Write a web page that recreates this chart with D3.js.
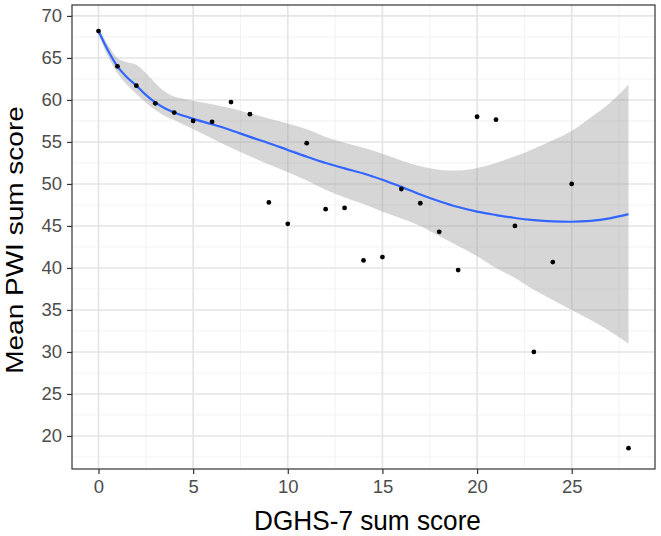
<!DOCTYPE html>
<html>
<head>
<meta charset="utf-8">
<script src="https://cdn.jsdelivr.net/npm/d3@7"></script>
<style>
  html, body { margin: 0; padding: 0; background: #fff; }
  svg { display: block; font-family: "Liberation Sans", Arial, sans-serif; }
</style>
</head>
<body>
<script>
// Scatter points
const pointX = [0,1,2,3,4,5,6,7,8,9,10,11,12,13,14,15,16,17,18,19,20,21,22,23,24,25,28];
const pointY = [68.2,64.0,61.7,59.6,58.5,57.5,57.4,59.75,58.3,47.8,45.25,54.85,47.0,47.15,40.9,41.3,49.4,47.7,44.3,39.75,58.0,57.65,45.0,30.0,40.7,50.0,18.55];

// Loess smoother with confidence band
const smoothX     = [0,0.5,1,1.5,2,2.5,3,3.5,4,5,6,7,8,9,10,11,12,13,14,15,16,17,18,19,20,21,22,23,24,25,26,27,28];
const smoothFit   = [68.2,65.9,64.0,62.7,61.7,60.6,59.7,59.0,58.5,57.75,57.1,56.4,55.6,54.85,54.05,53.25,52.5,51.85,51.25,50.5,49.65,48.75,47.95,47.25,46.7,46.3,45.95,45.7,45.55,45.5,45.6,45.9,46.4];
const smoothUpper = [68.6,66.6,65.0,64.5,64.2,63.2,62.0,61.0,60.4,59.9,59.5,59.0,58.4,57.8,57.2,56.5,55.6,54.9,54.3,53.6,52.8,52.1,51.7,51.6,51.9,52.5,53.3,54.2,55.2,56.3,57.9,59.6,61.8];
const smoothLower = [67.8,65.2,63.2,61.8,60.7,59.7,58.8,58.1,57.6,56.5,55.4,54.3,53.3,52.3,51.4,50.4,49.3,48.4,47.6,46.7,45.9,45.0,43.8,42.6,41.4,40.0,38.8,37.4,36.2,35.0,33.8,32.5,31.0];

// Axis ticks
const xTicks = [0,5,10,15,20,25];
const xMinor = [2.5,7.5,12.5,17.5,22.5,27.5];
const yTicks = [20,25,30,35,40,45,50,55,60,65,70];
const yMinor = [17.5,22.5,27.5,32.5,37.5,42.5,47.5,52.5,57.5,62.5,67.5];

const W = 661, H = 536;
const panel = {left: 72, right: 655, top: 5, bottom: 469};

const svg = d3.select("body").append("svg").attr("width", W).attr("height", H);

const x = d3.scaleLinear().domain([-1.4, 29.4]).range([panel.left, panel.right]);
const y = d3.scaleLinear().domain([16.07, 71.3]).range([panel.bottom, panel.top]);

svg.append("rect")
  .attr("x", panel.left).attr("y", panel.top)
  .attr("width", panel.right - panel.left).attr("height", panel.bottom - panel.top)
  .attr("fill", "#fff");

const grid = svg.append("g");
grid.selectAll(".xminor").data(xMinor).join("line")
  .attr("x1", d => x(d)).attr("x2", d => x(d))
  .attr("y1", panel.top).attr("y2", panel.bottom)
  .attr("stroke", "#f0f0f0").attr("stroke-width", 0.9);
grid.selectAll(".yminor").data(yMinor).join("line")
  .attr("y1", d => y(d)).attr("y2", d => y(d))
  .attr("x1", panel.left).attr("x2", panel.right)
  .attr("stroke", "#f0f0f0").attr("stroke-width", 0.9);
grid.selectAll(".xmajor").data(xTicks).join("line")
  .attr("x1", d => x(d)).attr("x2", d => x(d))
  .attr("y1", panel.top).attr("y2", panel.bottom)
  .attr("stroke", "#e4e4e4").attr("stroke-width", 1.6);
grid.selectAll(".ymajor").data(yTicks).join("line")
  .attr("y1", d => y(d)).attr("y2", d => y(d))
  .attr("x1", panel.left).attr("x2", panel.right)
  .attr("stroke", "#e4e4e4").attr("stroke-width", 1.6);

const band = smoothX.map((d, i) => ({x: d, lo: smoothLower[i], hi: smoothUpper[i], fit: smoothFit[i]}));
svg.append("path")
  .datum(band)
  .attr("d", d3.area().x(d => x(d.x)).y0(d => y(d.lo)).y1(d => y(d.hi)).curve(d3.curveCatmullRom.alpha(0.5)))
  .attr("fill", "#999999").attr("fill-opacity", 0.4);

svg.append("path")
  .datum(band)
  .attr("d", d3.line().x(d => x(d.x)).y(d => y(d.fit)).curve(d3.curveCatmullRom.alpha(0.5)))
  .attr("fill", "none").attr("stroke", "#3366FF").attr("stroke-width", 2.2);

svg.append("g").selectAll("circle")
  .data(pointX.map((d, i) => ({x: d, y: pointY[i]})))
  .join("circle")
  .attr("cx", d => x(d.x)).attr("cy", d => y(d.y)).attr("r", 2.4)
  .attr("fill", "#000");

svg.append("rect")
  .attr("x", panel.left).attr("y", panel.top)
  .attr("width", panel.right - panel.left).attr("height", panel.bottom - panel.top)
  .attr("fill", "none").attr("stroke", "#333333").attr("stroke-width", 1.2);

const xAxis = svg.append("g")
  .attr("transform", `translate(0,${panel.bottom})`)
  .call(d3.axisBottom(x).tickValues(xTicks).tickSize(5).tickPadding(6).tickFormat(d3.format("d")));
const yAxis = svg.append("g")
  .attr("transform", `translate(${panel.left},0)`)
  .call(d3.axisLeft(y).tickValues(yTicks).tickSize(5).tickPadding(5).tickFormat(d3.format("d")));
[xAxis, yAxis].forEach(a => {
  a.select(".domain").remove();
  a.selectAll(".tick line").attr("stroke", "#333333").attr("stroke-width", 1.2);
  a.selectAll(".tick text").attr("fill", "#4d4d4d").style("font-size", "18.5px")
    .style("font-family", "'Liberation Sans', Arial, sans-serif");
});

svg.append("text")
  .attr("transform", `translate(${(panel.left + panel.right) / 2 + 4},530) scale(0.935,1)`)
  .attr("text-anchor", "middle").attr("fill", "#000")
  .style("font-size", "28px")
  .text("DGHS-7 sum score");
svg.append("text")
  .attr("transform", `translate(23,240) scale(0.87,1) rotate(-90)`)
  .attr("text-anchor", "middle").attr("fill", "#000")
  .style("font-size", "28px")
  .text("Mean PWI sum score");
</script>
</body>
</html>
